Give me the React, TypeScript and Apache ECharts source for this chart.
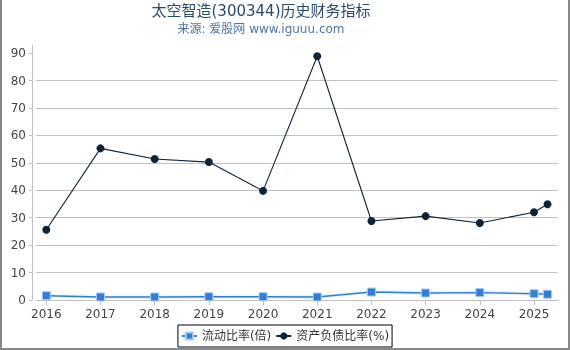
import React, { useEffect, useRef } from "react";
import * as echarts from "echarts";

const titleText = "太空智造(300344)历史财务指标";
const subtitleText = "来源: 爱股网 www.iguuu.com";
const periodX = [2016, 2017, 2018, 2019, 2020, 2021, 2022, 2023, 2024, 2025, 2025.25];
const xTickYears = [2016, 2017, 2018, 2019, 2020, 2021, 2022, 2023, 2024, 2025];
const yTicks = [0, 10, 20, 30, 40, 50, 60, 70, 80, 90];
const currentRatio = [1.57, 1.1, 1.1, 1.2, 1.2, 1.1, 2.9, 2.55, 2.7, 2.3, 2.1];
const debtRatio = [25.6, 55.3, 51.4, 50.3, 39.8, 88.9, 28.8, 30.6, 28.1, 32.0, 34.9];
const seriesNames = ["流动比率(倍)", "资产负债比率(%)"];

const FONT = "'DejaVu Sans', 'Noto Sans CJK SC', sans-serif";

export default function App() {
  const ref = useRef<HTMLDivElement>(null);
  useEffect(() => {
    document.body.style.margin = "0";
    const chart = echarts.init(ref.current!, null, { renderer: "svg" });
    chart.setOption({
      animation: false,
      textStyle: { fontFamily: FONT },
      graphic: [
        {
          type: "text",
          x: 261,
          y: 11,
          style: {
            text: titleText,
            fill: "#274b6d",
            fontSize: 15,
            fontFamily: FONT,
            textAlign: "center",
            textVerticalAlign: "middle",
          },
        },
        {
          type: "text",
          x: 261,
          y: 28.5,
          style: {
            text: subtitleText,
            fill: "#4d759e",
            fontSize: 12,
            fontFamily: FONT,
            textAlign: "center",
            textVerticalAlign: "middle",
          },
        },
      ],
      legend: {
        left: "center",
        top: 325,
        borderColor: "#000",
        borderWidth: 1,
        borderRadius: 0,
        padding: [5, 3, 5, 3],
        itemWidth: 15,
        itemHeight: 9,
        itemGap: 4,
        textStyle: { fontSize: 12, color: "#333", fontFamily: FONT },
        data: seriesNames,
      },
      grid: { left: 36, right: 12, top: 45, bottom: 50 },
      xAxis: {
        type: "value",
        min: 2015.81,
        max: 2025.443,
        axisLine: { show: true, lineStyle: { color: "#c0c0c0", width: 1 } },
        axisTick: {
          show: true,
          length: 5,
          customValues: xTickYears,
          lineStyle: { color: "#c0c0c0" },
        },
        axisLabel: {
          customValues: xTickYears,
          formatter: (v: number) => String(Math.round(v)),
          fontSize: 12,
          color: "#444",
          margin: 8,
          fontFamily: FONT,
        },
        splitLine: { show: false },
      },
      yAxis: {
        type: "value",
        min: 0,
        max: 93,
        interval: 10,
        offset: 4,
        axisLine: { show: true, lineStyle: { color: "#c0c0c0", width: 1 } },
        axisTick: {
          show: true,
          length: 3,
          customValues: yTicks,
          lineStyle: { color: "#c0c0c0" },
        },
        axisLabel: {
          customValues: yTicks,
          fontSize: 12,
          color: "#444",
          margin: 6,
          fontFamily: FONT,
        },
        splitLine: {
          show: true,
          showMinLine: false,
          showMaxLine: false,
          lineStyle: { color: "#c0c0c0", width: 1 },
        },
      },
      series: [
        {
          name: seriesNames[0],
          type: "line",
          data: periodX.map((x, i) => [x, currentRatio[i]]),
          symbol: "rect",
          symbolSize: 8,
          lineStyle: {
            color: "#2f7ed8",
            width: 1.4,
            shadowColor: "rgba(47,126,216,0.3)",
            shadowBlur: 2,
          },
          itemStyle: {
            color: "#2f7ed8",
            borderColor: "rgba(170,200,240,1)",
            borderWidth: 1,
          },
          z: 3,
        },
        {
          name: seriesNames[1],
          type: "line",
          data: periodX.map((x, i) => [x, debtRatio[i]]),
          symbol: "circle",
          symbolSize: 8,
          lineStyle: { color: "#0d233a", width: 1.1 },
          itemStyle: { color: "#0d233a", borderColor: "#0d233a", borderWidth: 0 },
          z: 4,
        },
      ],
    });
    return () => chart.dispose();
  }, []);
  return (
    <div style={{ position: "fixed", left: 0, top: 0, width: 570, height: 350 }}>
      <div ref={ref} style={{ width: 570, height: 350 }} />
      <div
        style={{
          position: "absolute",
          left: 0,
          top: 0,
          width: 570,
          height: 350,
          boxSizing: "border-box",
          borderLeft: "2px solid #888",
          borderRight: "2px solid #888",
          borderBottom: "2px solid #888",
          pointerEvents: "none",
        }}
      />
    </div>
  );
}
